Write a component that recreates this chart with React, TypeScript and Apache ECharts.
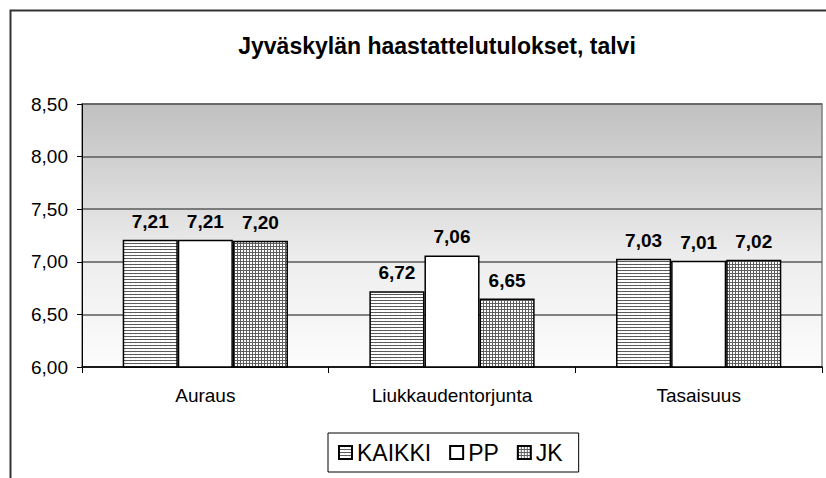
import React, { useEffect, useRef } from "react";
import * as echarts from "echarts";

const categories = ["Auraus", "Liukkaudentorjunta", "Tasaisuus"];
const seriesNames = ["KAIKKI", "PP", "JK"];
const kaikki = [7.21, 6.72, 7.03];
const pp = [7.21, 7.06, 7.01];
const jk = [7.2, 6.65, 7.02];
const yTicks = [6.0, 6.5, 7.0, 7.5, 8.0, 8.5];
const titleText = "Jyväskylän haastattelutulokset, talvi";

const FONT = "'Liberation Sans', Arial, sans-serif";
const fmt = (v: number) => v.toFixed(2).replace(".", ",");

function makePattern(kind: "h" | "grid") {
  const c = document.createElement("canvas");
  const w = kind === "h" ? 5 : 3;
  const h = 3;
  c.width = w;
  c.height = h;
  const ctx = c.getContext("2d")!;
  ctx.fillStyle = "#ffffff";
  ctx.fillRect(0, 0, w, h);
  if (kind === "h") {
    ctx.fillStyle = "#ececec";
    ctx.fillRect(0, 1, 1, 1);
    ctx.fillStyle = "#5a5a5a";
    ctx.fillRect(0, 0, w, 1);
  } else {
    ctx.fillStyle = "#5e5e5e";
    ctx.fillRect(0, 0, w, 1);
    ctx.fillRect(0, 0, 1, h);
  }
  return { image: c, repeat: "repeat", imageWidth: w, imageHeight: h } as any;
}

export default function App() {
  const ref = useRef<HTMLDivElement>(null);
  useEffect(() => {
    if (!ref.current) return;
    const chart = echarts.init(ref.current, null, { renderer: "svg" });
    const label = {
      show: true,
      position: "top",
      distance: 9,
      fontFamily: FONT,
      fontWeight: "bold",
      fontSize: 19,
      color: "#000",
      formatter: (p: any) => fmt(p.value),
    };
    const fills = [makePattern("h"), "#ffffff", makePattern("grid")];
    const datas = [kaikki, pp, jk];
    chart.setOption({
      animation: false,
      backgroundColor: "#ffffff",
      title: {
        text: titleText,
        left: 432,
        textAlign: "center",
        top: 29,
        textStyle: { fontFamily: FONT, fontWeight: "bold", fontSize: 23, color: "#000" },
      },
      graphic: [
        {
          type: "rect",
          left: 8,
          top: 8,
          shape: { width: 900, height: 600 },
          style: { fill: "none", stroke: "#333", lineWidth: 2 },
          silent: true,
          z: 100,
        },
      ],
      legend: {
        left: 328,
        top: 433,
        data: seriesNames,
        orient: "horizontal",
        icon: "rect",
        padding: [8, 16, 8, 10],
        itemGap: 18,
        itemWidth: 13,
        itemHeight: 13,
        borderColor: "#000",
        borderWidth: 1,
        textStyle: { fontFamily: FONT, fontSize: 23, color: "#000" },
      },
      grid: {
        left: 82,
        top: 104,
        right: 4,
        bottom: 111,
        show: true,
        borderColor: "#808080",
        borderWidth: 1.5,
        backgroundColor: new echarts.graphic.LinearGradient(0, 0, 0, 1, [
          { offset: 0, color: "#c0c0c0" },
          { offset: 0.6, color: "#eeeeee" },
          { offset: 1, color: "#fcfcfc" },
        ]),
      },
      xAxis: {
        type: "category",
        data: categories,
        axisLine: { lineStyle: { color: "#000", width: 1.5 } },
        axisTick: { show: true, length: 6, lineStyle: { color: "#000" } },
        axisLabel: { fontFamily: FONT, fontSize: 19, color: "#000", margin: 19 },
      },
      yAxis: {
        type: "value",
        min: yTicks[0],
        max: yTicks[yTicks.length - 1],
        interval: 0.5,
        axisLine: { show: true, lineStyle: { color: "#000", width: 1 } },
        axisTick: { show: true, length: 5, lineStyle: { color: "#000" } },
        axisLabel: { fontFamily: FONT, fontSize: 19, color: "#000", margin: 14, formatter: (v: number) => fmt(v) },
        splitLine: { lineStyle: { color: "#5a5a5a", width: 1.5 } },
      },
      series: seriesNames.map((name, i) => ({
        name,
        type: "bar",
        data: datas[i],
        barGap: "0%",
        barCategoryGap: "33%",
        itemStyle: { color: fills[i], borderColor: "#000", borderWidth: 1.5 },
        label,
      })),
    });
    return () => chart.dispose();
  }, []);
  return (
    <div
      ref={ref}
      style={{ position: "fixed", left: 0, top: 0, width: 826, height: 478 }}
    />
  );
}
